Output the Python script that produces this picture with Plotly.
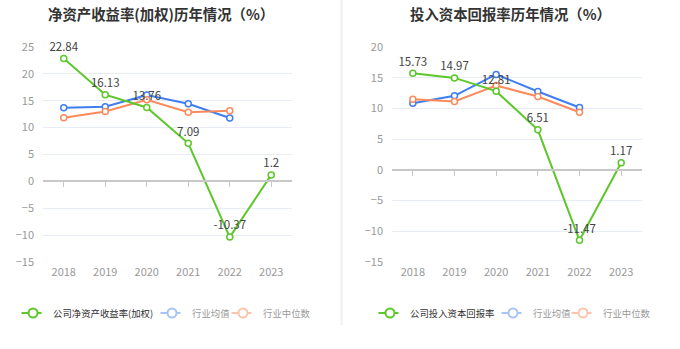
import plotly.graph_objects as go

years = ["2018", "2019", "2020", "2021", "2022", "2023"]
roe_company = [22.84, 16.13, 13.76, 7.09, -10.37, 1.2]
roe_avg = [13.7, 13.9, 16.07, 14.45, 11.8]
roe_median = [11.85, 13.0, 15.2, 12.85, 13.15]
roic_company = [15.73, 14.97, 12.81, 6.51, -11.47, 1.17]
roic_avg = [10.85, 12.05, 15.54, 12.76, 10.15]
roic_median = [11.5, 11.13, 13.74, 11.94, 9.38]

GREEN = "#5cc72a"
BLUE = "#3f7ef0"
ORANGE = "#fb8b5d"
LBLUE = "#a8c3f6"
LORANGE = "#fcc4ad"
FONT = "Noto Sans CJK SC"
W, H = 680, 349
LEG_Y = 313

def px_x(v):
    return v / W

def px_y(v):
    return (H - v) / H

fig = go.Figure()
shapes = []

def legend_at(text_x):
    return dict(orientation="h", x=px_x(text_x - 38), y=px_y(LEG_Y), xanchor="left", yanchor="middle",
                font=dict(size=9.4, color="#333", family=FONT), bgcolor="rgba(0,0,0,0)",
                itemwidth=30)

def add_chart(xa, xz, comp, avg, med, comp_name, legends, text_xs):
    xs = "x" if xa == 1 else f"x{xa}"
    ys = "y" if xa == 1 else f"y{xa}"
    xzs = f"x{xz}"
    fig.add_trace(go.Scatter(x=years[:len(avg)], y=avg, mode="lines+markers", xaxis=xs, yaxis=ys,
                             line=dict(color=BLUE, width=2),
                             marker=dict(size=6, color="white", line=dict(color=BLUE, width=1.5)),
                             showlegend=False))
    fig.add_trace(go.Scatter(x=years[:len(med)], y=med, mode="lines+markers", xaxis=xs, yaxis=ys,
                             line=dict(color=ORANGE, width=2),
                             marker=dict(size=6, color="white", line=dict(color=ORANGE, width=1.5)),
                             showlegend=False))
    fig.add_trace(go.Scatter(x=years, y=comp, mode="lines+markers+text", xaxis=xs, yaxis=ys,
                             text=[str(v) for v in comp], textposition="top center",
                             textfont=dict(color="#444", size=11.5, family=FONT),
                             cliponaxis=False,
                             line=dict(color=GREEN, width=2),
                             marker=dict(size=6, color="white", line=dict(color=GREEN, width=1.5)),
                             showlegend=False))
    # invisible trace to drive the zero-line axis
    fig.add_trace(go.Scatter(x=years, y=comp, mode="markers", xaxis=xzs, yaxis=ys,
                             marker=dict(opacity=0), hoverinfo="skip", showlegend=False))
    # legend entries
    entries = [
        (comp_name, GREEN),
        ('<span style="color:#9a9a9a">行业均值</span>', LBLUE),
        ('<span style="color:#9a9a9a">行业中位数</span>', LORANGE),
    ]
    for (name, col), lg, tx in zip(entries, legends, text_xs):
        cx = tx - 19.5
        shapes.append(dict(type="line", xref="paper", yref="paper", layer="below",
                           x0=px_x(cx - 10), x1=px_x(cx + 10), y0=px_y(LEG_Y), y1=px_y(LEG_Y),
                           line=dict(color=col, width=2)))
        fig.add_trace(go.Scatter(x=[None], y=[None], mode="markers", xaxis=xs, yaxis=ys,
                                 name=name, legend=lg,
                                 marker=dict(size=9, color="white", line=dict(color=col, width=2))))

add_chart(1, 3, roe_company, roe_avg, roe_median, "公司净资产收益率(加权)",
          ["legend", "legend2", "legend3"], [51, 190, 261])
add_chart(2, 4, roic_company, roic_avg, roic_median, "公司投入资本回报率",
          ["legend4", "legend5", "legend6"], [408, 531, 601])

ydom = [px_y(262), px_y(47)]
axis_font = dict(color="#999", size=11, family=FONT)

xcommon = dict(type="category", categoryorder="array", categoryarray=years, range=[-0.5, 5.5],
               showgrid=False, showline=False, ticks="", tickfont=axis_font, zeroline=False,
               automargin=False, ticklabelstandoff=2)

def zero_axis(over, pos):
    return dict(type="category", categoryorder="array", categoryarray=years, range=[-0.5, 5.5],
                overlaying=over, anchor="free", position=pos, automargin=False,
                showline=True, linecolor="#c8c8c8", linewidth=1.5, ticks="outside", ticklen=5,
                tickcolor="#c8c8c8", showticklabels=False, showgrid=False, zeroline=False)

shapes.append(dict(type="line", xref="paper", yref="paper", x0=px_x(341.5), x1=px_x(341.5),
                   y0=px_y(325), y1=1, line=dict(color="#f0f0f0", width=2)))

fig.update_layout(
    xaxis=dict(domain=[px_x(43), px_x(292)], anchor="y", **xcommon),
    xaxis2=dict(domain=[px_x(392), px_x(642)], anchor="y2", **xcommon),
    xaxis3=zero_axis("x", px_y(47 + 25 * 215 / 40)),
    xaxis4=zero_axis("x2", px_y(47 + 20 * 215 / 35)),
    yaxis=dict(domain=ydom, anchor="x", range=[-15, 25], tickvals=[-15, -10, -5, 0, 5, 10, 15, 20, 25],
               showgrid=True, gridcolor="#e8ecf5", gridwidth=1, zeroline=False, showline=False,
               tickfont=axis_font, ticks="", ticklabelstandoff=8, automargin=False),
    yaxis2=dict(domain=ydom, anchor="x2", range=[-15, 20], tickvals=[-15, -10, -5, 0, 5, 10, 15, 20],
                showgrid=True, gridcolor="#e8ecf5", gridwidth=1, zeroline=False, showline=False,
                tickfont=axis_font, ticks="", ticklabelstandoff=8, automargin=False),
    width=W, height=H, margin=dict(l=0, r=0, t=0, b=0, autoexpand=False),
    paper_bgcolor="white", plot_bgcolor="white",
    font=dict(family=FONT),
    legend=legend_at(51),
    legend2=legend_at(190),
    legend3=legend_at(261),
    legend4=legend_at(408),
    legend5=legend_at(531),
    legend6=legend_at(601),
    annotations=[
        dict(text="<b>净资产收益率(加权)历年情况（%）</b>", x=px_x(161), y=px_y(13), xref="paper", yref="paper",
             xanchor="center", yanchor="middle", showarrow=False,
             font=dict(size=14.4, color="#333", family=FONT)),
        dict(text="<b>投入资本回报率历年情况（%）</b>", x=px_x(510), y=px_y(13), xref="paper", yref="paper",
             xanchor="center", yanchor="middle", showarrow=False,
             font=dict(size=14.4, color="#333", family=FONT)),
    ],
    shapes=shapes,
)

fig.write_html("out.html")
